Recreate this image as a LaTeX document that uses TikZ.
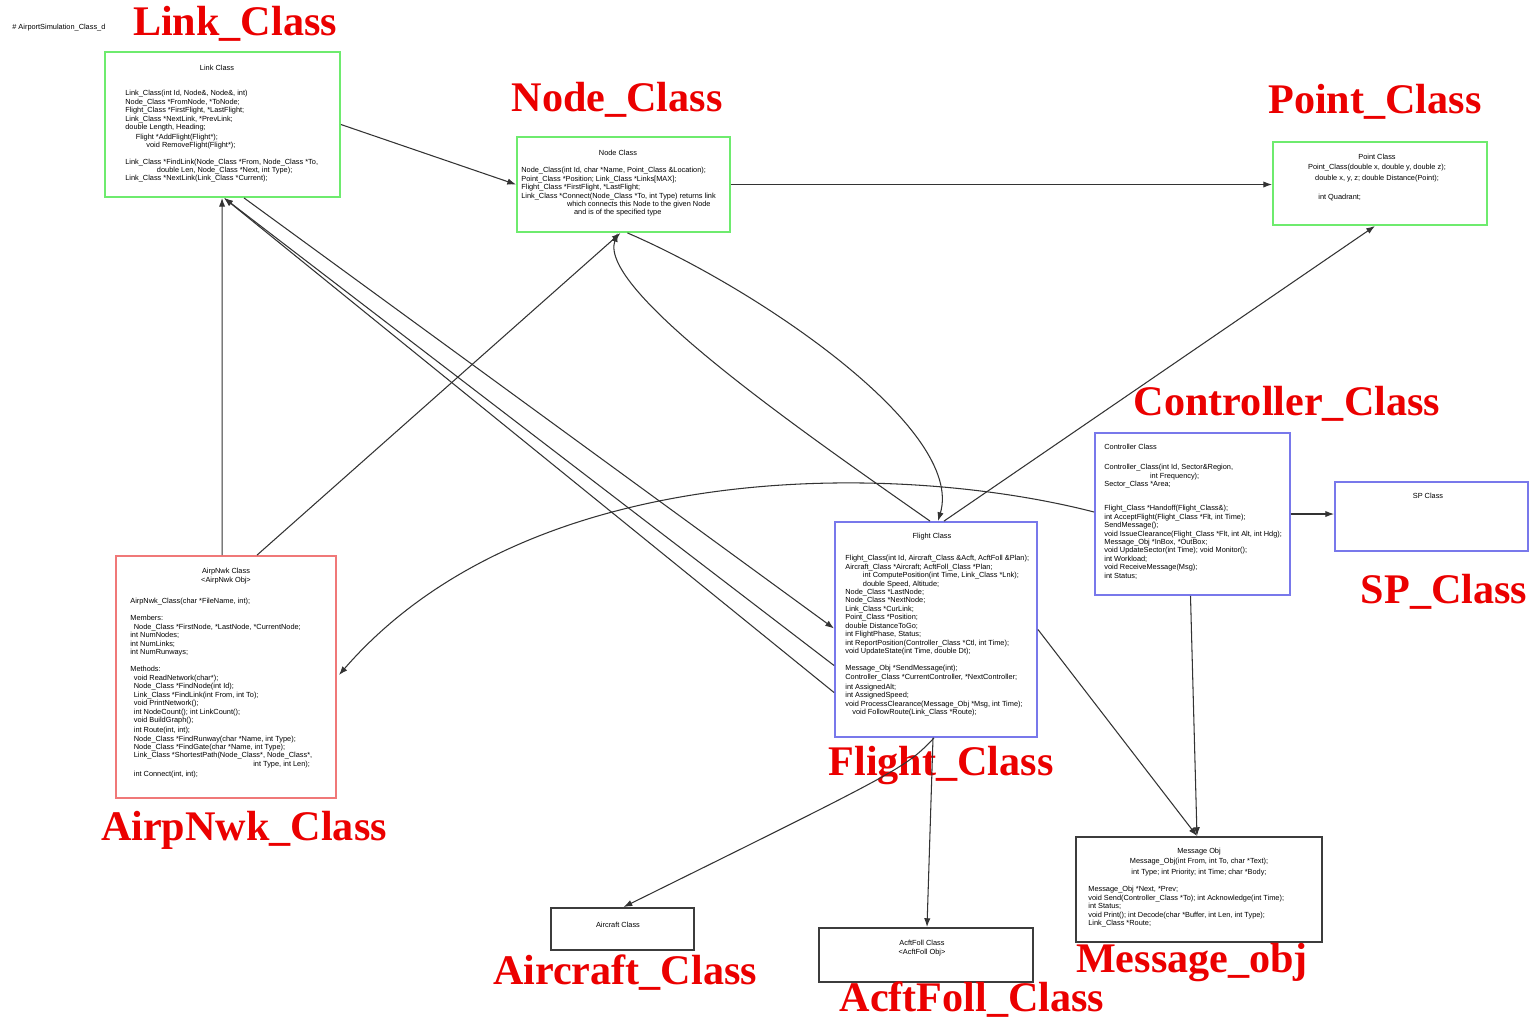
\documentclass[tikz,border=0pt]{standalone}
\usepackage{fontspec}
\setmainfont{Liberation Serif}
\newfontfamily\smallsans{Liberation Sans}
\usetikzlibrary{arrows.meta,calc}
\definecolor{boxgreen}{RGB}{110,235,110}
\definecolor{boxblue}{RGB}{120,120,235}
\definecolor{boxred}{RGB}{240,120,120}
\definecolor{labelred}{RGB}{235,0,0}
\definecolor{boxgray}{RGB}{60,60,60}
\begin{document}
\begin{tikzpicture}[x=0.02cm,y=-0.02cm,
  classbox/.style={draw, line width=1.1pt, fill=white, inner sep=0pt},
  greenbox/.style={classbox, draw=boxgreen},
  bluebox/.style={classbox, draw=boxblue},
  redbox/.style={classbox, draw=boxred},
  plainbox/.style={classbox, draw=boxgray},
  lbl/.style={text=labelred, inner sep=0pt, font=\bfseries\fontsize{24}{28}\selectfont},
  ttl/.style={inner sep=0pt, font=\smallsans\fontsize{4.2}{4.8}\selectfont, align=center},
  body/.style={inner sep=0pt, anchor=north west, align=left, font=\smallsans\fontsize{4.2}{4.8}\selectfont},
  conn/.style={draw=black!80, line width=0.6pt, -{Latex[length=5pt,width=3.6pt]}}
]
\useasboundingbox (0,0) rectangle (1535,1019);
\fill[white] (0,0) rectangle (1535,1019);

% class boxes
\node[greenbox, minimum width=4.70cm, minimum height=2.90cm] (link) at (222.5,124.5) {};
\node[greenbox, minimum width=4.26cm, minimum height=1.90cm] (node) at (623.5,184.5) {};
\node[greenbox, minimum width=4.28cm, minimum height=1.66cm] (point) at (1380,183.5) {};
\node[bluebox, minimum width=3.90cm, minimum height=3.24cm] (ctrl) at (1192.5,514) {};
\node[bluebox, minimum width=3.86cm, minimum height=1.38cm] (sp) at (1431.5,516.5) {};
\node[bluebox, minimum width=4.04cm, minimum height=4.30cm] (flight) at (936,629.5) {};
\node[redbox, minimum width=4.40cm, minimum height=4.84cm] (airp) at (226,677) {};
\node[plainbox, minimum width=4.92cm, minimum height=2.10cm] (msg) at (1199,889.5) {};
\node[plainbox, minimum width=2.86cm, minimum height=0.84cm] (acft) at (622.5,929) {};
\node[plainbox, minimum width=4.28cm, minimum height=1.08cm] (foll) at (926,955) {};

% class names
\node[lbl] (linkL) at (235,24) {Link\_Class};
\node[lbl] (nodeL) at (617,100) {Node\_Class};
\node[lbl] (pointL) at (1375,102) {Point\_Class};
\node[lbl] (ctrlL) at (1287,404) {Controller\_Class};
\node[lbl] (spL) at (1444,592) {SP\_Class};
\node[lbl] (flightL) at (941,766) {Flight\_Class};
\node[lbl] (airpL) at (244,830) {AirpNwk\_Class};
\node[lbl] (acftL) at (625,973) {Aircraft\_Class};
\node[lbl] (follL) at (972,1000) {AcftFoll\_Class};
\node[lbl] (msgL) at (1192,963) {Message\_obj};

\node[ttl, anchor=west] (hdr) at (12,28) {\# AirportSimulation\_Class\_d};

% box contents
\node[ttl] (linkT) at (217,68) {Link Class};
\node[body] (linkB) at (125,90) {Link\_Class(int Id, Node\&, Node\&, int)\\
Node\_Class *FromNode, *ToNode;\\
Flight\_Class *FirstFlight, *LastFlight;\\
Link\_Class *NextLink, *PrevLink;\\
double Length, Heading;\\[0.8pt]
\hspace{6pt}Flight *AddFlight(Flight*);\\
\hspace{12pt}void RemoveFlight(Flight*);\\[4.5pt]
Link\_Class *FindLink(Node\_Class *From, Node\_Class *To,\\
\hspace{18pt}double Len, Node\_Class *Next, int Type);\\
Link\_Class *NextLink(Link\_Class *Current);};

\node[ttl] (nodeT) at (618,153) {Node Class};
\node[body] (nodeB) at (521,167) {Node\_Class(int Id, char *Name, Point\_Class \&Location);\\
Point\_Class *Position; Link\_Class *Links[MAX];\\
Flight\_Class *FirstFlight, *LastFlight;\\
Link\_Class *Connect(Node\_Class *To, int Type) returns link\\
\hspace{26pt}which connects this Node to the given Node\\
\hspace{30pt}and is of the specified type};

\node[ttl, anchor=north] (pointT) at (1377,154) {Point Class\\[1pt]
Point\_Class(double x, double y, double z);\\[1pt]
double x, y, z; double Distance(Point);};
\node[body] (pointB) at (1318,194) {int Quadrant;};

\node[body] (ctrlT) at (1104,444) {Controller Class};
\node[body] (ctrlB) at (1104,464) {Controller\_Class(int Id, Sector\&Region,\\
\hspace{26pt}int Frequency);\\
Sector\_Class *Area;\\[9pt]
Flight\_Class *Handoff(Flight\_Class\&);\\
int AcceptFlight(Flight\_Class *Flt, int Time);\\
SendMessage();\\
void IssueClearance(Flight\_Class *Flt, int Alt, int Hdg);\\
Message\_Obj *InBox, *OutBox;\\
void UpdateSector(int Time); void Monitor();\\
int Workload;\\
void ReceiveMessage(Msg);\\
int Status;};

\node[ttl] (spT) at (1428,496) {SP Class};

\node[ttl] (flightT) at (932,537) {Flight Class};
\node[body] (flightB) at (845,555) {Flight\_Class(int Id, Aircraft\_Class \&Acft, AcftFoll \&Plan);\\
Aircraft\_Class *Aircraft; AcftFoll\_Class *Plan;\\
\hspace{10pt}int ComputePosition(int Time, Link\_Class *Lnk);\\
\hspace{10pt}double Speed, Altitude;\\
Node\_Class *LastNode;\\
Node\_Class *NextNode;\\
Link\_Class *CurLink;\\
Point\_Class *Position;\\
double DistanceToGo;\\
int FlightPhase, Status;\\
int ReportPosition(Controller\_Class *Ctl, int Time);\\
void UpdateState(int Time, double Dt);\\[5pt]
Message\_Obj *SendMessage(int);\\
Controller\_Class *CurrentController, *NextController;\\[1pt]
int AssignedAlt;\\
int AssignedSpeed;\\
void ProcessClearance(Message\_Obj *Msg, int Time);\\
\hspace{4pt}void FollowRoute(Link\_Class *Route);};

\node[ttl] (airpT) at (226,576) {AirpNwk Class\\ \textless AirpNwk Obj\textgreater};
\node[body] (airpB) at (130,598) {AirpNwk\_Class(char *FileName, int);\\[5pt]
Members:\\
\hspace{2pt}Node\_Class *FirstNode, *LastNode, *CurrentNode;\\
int NumNodes;\\
int NumLinks;\\
int NumRunways;\\[5pt]
Methods:\\
\hspace{2pt}void ReadNetwork(char*);\\
\hspace{2pt}Node\_Class *FindNode(int Id);\\
\hspace{2pt}Link\_Class *FindLink(int From, int To);\\
\hspace{2pt}void PrintNetwork();\\
\hspace{2pt}int NodeCount(); int LinkCount();\\
\hspace{2pt}void BuildGraph();\\[1pt]
\hspace{2pt}int Route(int, int);\\
\hspace{2pt}Node\_Class *FindRunway(char *Name, int Type);\\
\hspace{2pt}Node\_Class *FindGate(char *Name, int Type);\\
\hspace{2pt}Link\_Class *ShortestPath(Node\_Class*, Node\_Class*,\\
\hspace{70pt}int Type, int Len);\\[1pt]
\hspace{2pt}int Connect(int, int);};

\node[ttl] (msgT) at (1199,862) {Message Obj\\[1pt]
Message\_Obj(int From, int To, char *Text);\\[1pt]
int Type; int Priority; int Time; char *Body;};
\node[body] (msgB) at (1088,886) {Message\_Obj *Next, *Prev;\\
void Send(Controller\_Class *To); int Acknowledge(int Time);\\
int Status;\\
void Print(); int Decode(char *Buffer, int Len, int Type);\\
Link\_Class *Route;};

\node[ttl] (acftT) at (618,925) {Aircraft Class};
\node[ttl] (follT) at (922,948) {AcftFoll Class\\ \textless AcftFoll Obj\textgreater};

% connectors
\draw[conn] (link.east) -- (node.west);
\draw[conn] (node.east) -- (node.east -| point.west);
\draw[conn] ($(airp.north west)+(107,0)$) -- ($(link.south west)+(118,0)$);
\draw[conn] ($(airp.north west)+(142,0)$) -- ($(node.south)+(-3,0)$);
\draw[conn] ($(link.south west)+(140,0)$) -- ($(flight.west)+(0,-1)$);
\draw[conn] ($(flight.west)+(0,36)$) -- ($(link.south west)+(120,0)$);
\draw[conn] ($(flight.west)+(0,63)$) -- ($(link.south west)+(120,0)$);
\draw[conn] ($(flight.north)+(-6,0)$) .. controls (800,430) and (598,290) .. ($(node.south)+(-6,0)$);
\draw[conn] ($(node.south)+(4,0)$) .. controls (760,290) and (965,430) .. ($(flight.north)+(2,0)$);
\draw[conn] ($(flight.north)+(8,0)$) -- ($(point.south)+(-5,0)$);
\draw[conn] ($(ctrl.west)+(0,-2)$) .. controls (900,462) and (530,455) .. ($(airp.east)+(2,-2)$);
\draw[conn] (ctrl.east) -- (ctrl.east -| sp.west);
\draw[conn] ($(ctrl.south)+(-2,0)$) -- ($(msg.north)+(-2,0)$);
\draw[conn] (flight.east) -- ($(msg.north)+(-2,0)$);
\draw[conn] ($(flight.south)+(-2,0)$) .. controls (905,768) .. ($(acft.north)+(1,0)$);
\draw[conn] ($(flight.south)+(-3,0)$) -- ($(foll.north)+(1,0)$);
\end{tikzpicture}
\end{document}
